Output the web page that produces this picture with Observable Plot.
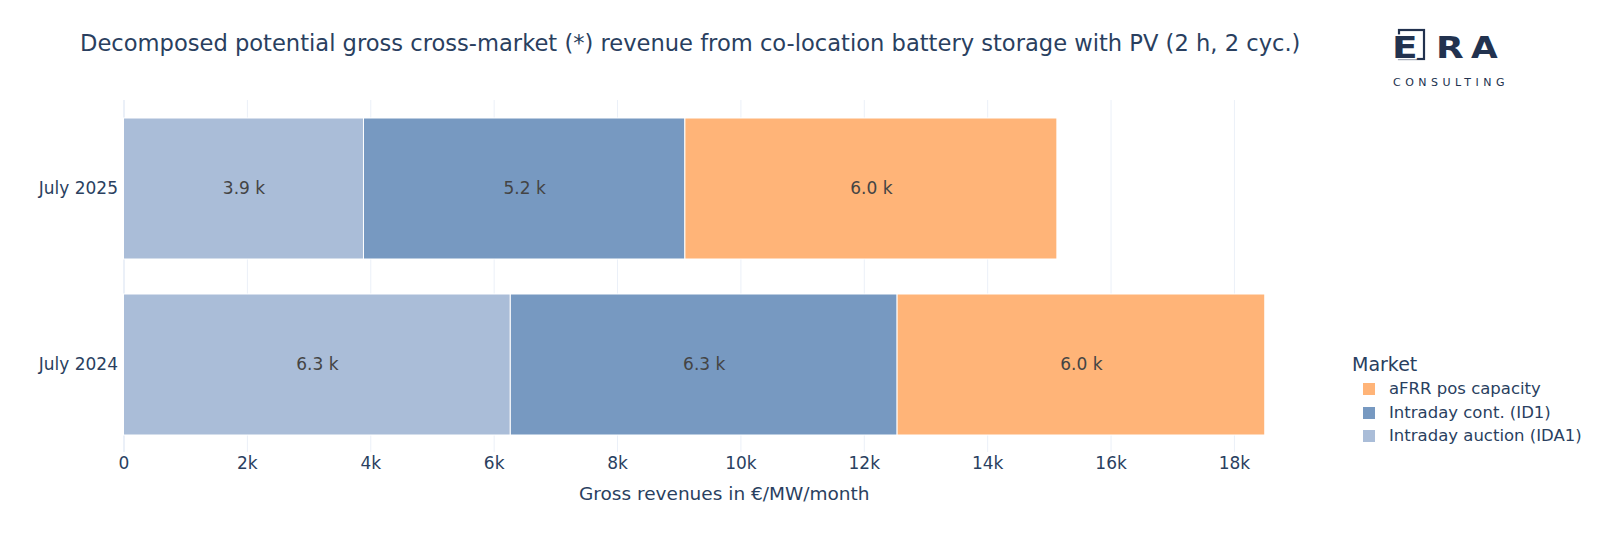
<!DOCTYPE html>
<html>
<head>
<meta charset="utf-8">
<script src="https://cdn.jsdelivr.net/npm/d3@7"></script>
<script src="https://cdn.jsdelivr.net/npm/@observablehq/plot@0.6"></script>
<style>
  html, body { margin: 0; padding: 0; background: #fff; }
  body { font-family: "DejaVu Sans", Verdana, sans-serif; color: #2a3f5f; }
  #wrap { position: relative; width: 1600px; height: 533px; overflow: hidden; }
  #chart { position: absolute; left: 0; top: 0; }
  #title { position: absolute; left: 80px; top: 30px; font-size: 22.6px; color: #2a3f5f; white-space: nowrap; }
  #legend { position: absolute; left: 1352px; top: 351px; color: #2a3f5f; }
  #legend .lt { font-size: 19px; line-height: 26px; }
  #legend .item { position: relative; height: 23.5px; font-size: 16.5px; padding-left: 37px; line-height: 23.5px; white-space: nowrap; }
  #legend .sw { position: absolute; left: 11px; top: 6px; width: 12px; height: 12px; }
  #logo { position: absolute; left: 1380px; top: 20px; }
</style>
</head>
<body>
<div id="wrap">
  <div id="chart"></div>
  <div id="title">Decomposed potential gross cross-market (*) revenue from co-location battery storage with PV (2 h, 2 cyc.)</div>
  <svg id="logo" width="140" height="80" viewBox="0 0 140 80">
    <rect x="19" y="10" width="25" height="29" fill="none" stroke="#22324f" stroke-width="2.2"></rect>
    <g font-family="DejaVu Sans, sans-serif" font-weight="bold" font-size="30" fill="#22324f">
      <text transform="translate(12,38) scale(1.25,1)" stroke="#fff" stroke-width="3" paint-order="stroke">E</text>
      <text transform="translate(56,38) scale(1.2,1)">R</text>
      <text transform="translate(91,38) scale(1.15,1)">A</text>
    </g>
    <text x="13" y="66" font-family="DejaVu Sans, sans-serif" font-size="11" fill="#22324f" letter-spacing="4.5">CONSULTING</text>
  </svg>
  <div id="legend"></div>
</div>
<script>
// ---- data ----
const periods = ["July 2025", "July 2024"];
const markets = ["Intraday auction (IDA1)", "Intraday cont. (ID1)", "aFRR pos capacity"];
const legendOrder = ["aFRR pos capacity", "Intraday cont. (ID1)", "Intraday auction (IDA1)"];
const colors = ["#aabdd8", "#7799c1", "#ffb478"];
const ida1 = [3890, 6270];
const id1 = [5210, 6270];
const afrr = [6030, 5960];
const xTicks = [0, 2000, 4000, 6000, 8000, 10000, 12000, 14000, 16000, 18000];
const xLabel = "Gross revenues in €/MW/month";

const series = [ida1, id1, afrr];
const rows = [];
markets.forEach((m, mi) => {
  periods.forEach((p, pi) => rows.push({period: p, market: m, value: series[mi][pi]}));
});

const font = '"DejaVu Sans", Verdana, sans-serif';
const fmtTick = d => d === 0 ? "0" : d3.format("~s")(d);
const chart = Plot.plot({
  width: 1600,
  height: 533,
  marginLeft: 123.5,
  marginRight: 276,
  marginTop: 100,
  marginBottom: 81,
  style: {fontFamily: font, fontSize: "17px", color: "#2a3f5f", background: "#fff"},
  x: {domain: [0, 19460], ticks: xTicks, tickFormat: fmtTick},
  y: {domain: periods, paddingInner: 0.2, paddingOuter: 0.1},
  color: {domain: markets, range: colors},
  marks: [
    Plot.gridX(xTicks.slice(1), {stroke: "#ebf0f8", strokeOpacity: 1, strokeWidth: 1}),
    Plot.ruleX([0], {stroke: "#ebf0f8", strokeWidth: 2}),
    Plot.barX(rows, {y: "period", x: "value", fill: "market", stroke: "#fff", strokeWidth: 1}),
    Plot.text(rows, Plot.stackX({y: "period", x: "value", z: "market", text: d => (d.value / 1000).toFixed(1) + " k", fill: "#444", fontSize: 17})),
    Plot.axisX({ticks: xTicks, tickSize: 0, tickPadding: 4, tickFormat: fmtTick, fontSize: 17, fill: "#2a3f5f", label: null}),
    Plot.text([xLabel], {frameAnchor: "bottom", dy: 42, text: d => d, fontSize: 18.5, fill: "#2a3f5f", lineAnchor: "middle"}),
    Plot.axisY({tickSize: 0, tickPadding: 6, fontSize: 17, fill: "#2a3f5f", label: null})
  ]
});
document.getElementById("chart").appendChild(chart);

// legend
const lg = document.getElementById("legend");
const lt = document.createElement("div"); lt.className = "lt"; lt.textContent = "Market"; lg.appendChild(lt);
legendOrder.forEach(m => {
  const it = document.createElement("div"); it.className = "item";
  const sw = document.createElement("span"); sw.className = "sw"; sw.style.background = colors[markets.indexOf(m)];
  it.appendChild(sw); it.appendChild(document.createTextNode(m)); lg.appendChild(it);
});
</script>
</body>
</html>
